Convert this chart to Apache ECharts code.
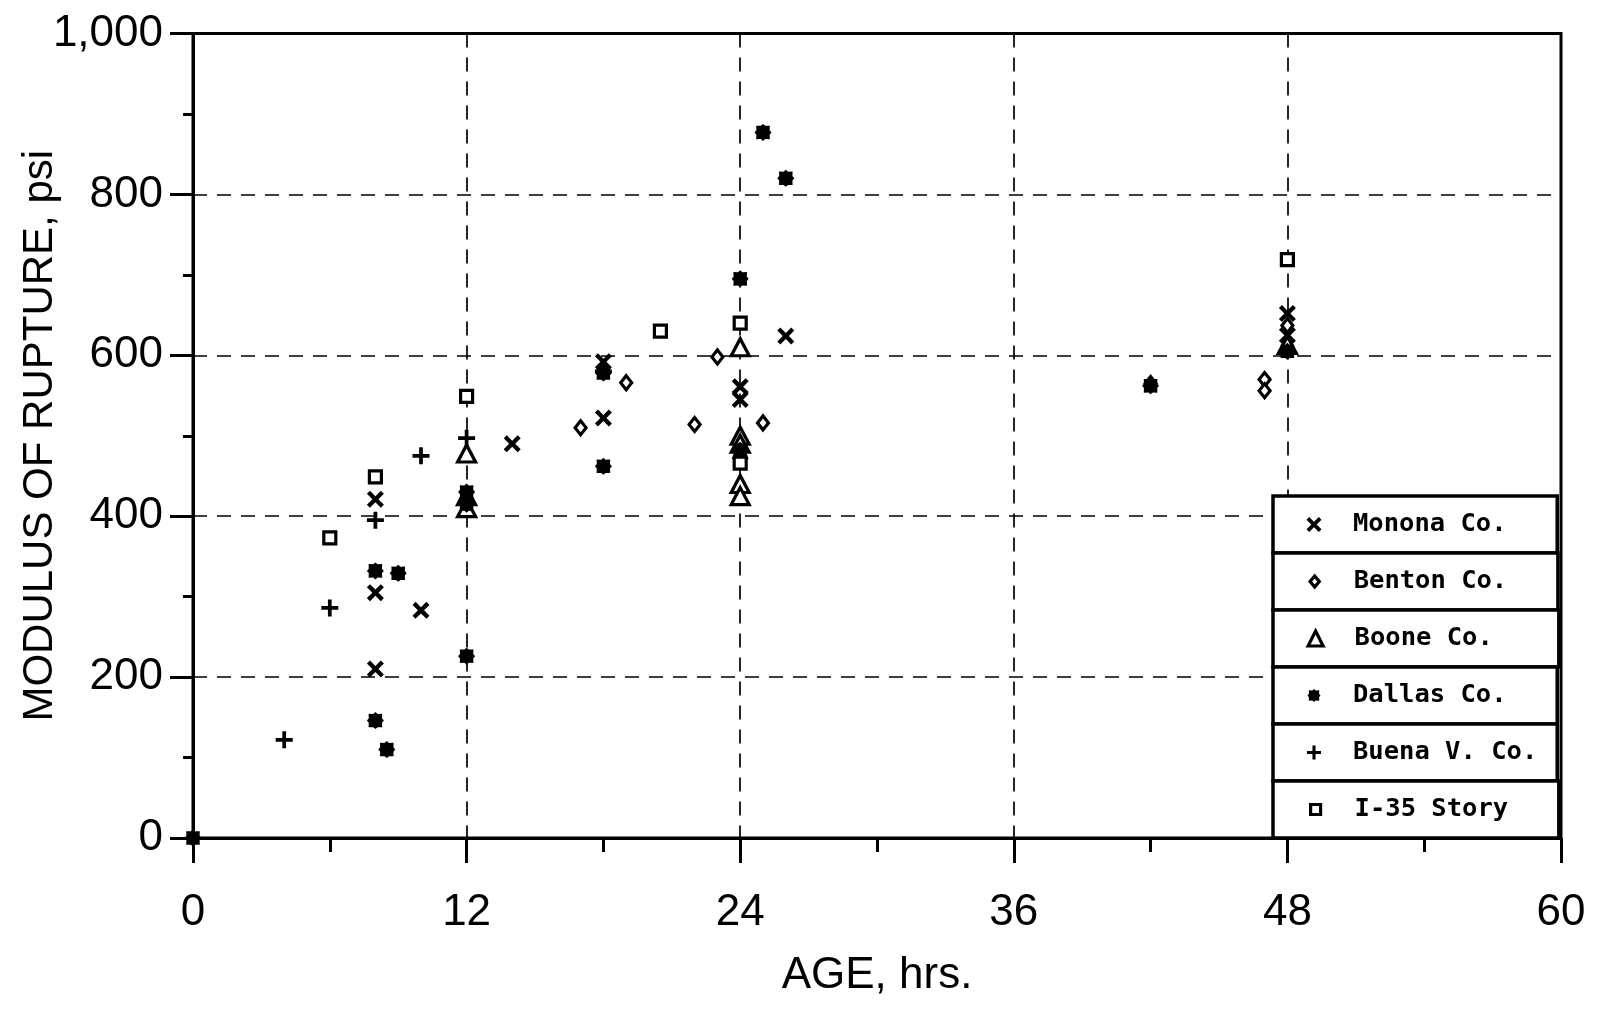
<!DOCTYPE html>
<html>
<head>
<meta charset="utf-8">
<script src="https://cdn.jsdelivr.net/npm/echarts@6/dist/echarts.min.js"></script>
<style>
html,body{margin:0;padding:0;background:#fff;}
#chart{width:1597px;height:1009px;}
</style>
</head>
<body>
<div id="chart"></div>
<script>
// ---- data (age in hrs, modulus of rupture in psi) ----
const seriesNames = ['Monona Co.', 'Benton Co.', 'Boone Co.', 'Dallas Co.', 'Buena V. Co.', 'I-35 Story'];
const monona = [[8,421],[8,305],[8,210],[10,283],[14,490],[18,522],[18,592],[24,561],[24,545],[26,624],[48,652],[48,625]];
const benton = [[17,510],[19,566],[22,514],[23,598],[25,516],[42,565],[47,570],[47,556],[48,637]];
const boone  = [[12,478],[12,425],[12,410],[24,610],[24,500],[24,490],[24,440],[24,425],[48,613]];
const dallas = [[0,0],[8,332],[9,329],[8,146],[8.5,110],[12,226],[12,430],[12,415],[18,462],[18,578],[24,695],[25,877],[26,820],[24,482],[24,472],[42,562],[48,605]];
const buena  = [[4,122],[6,286],[8,395],[10,475],[12,497],[18,580]];
const i35    = [[6,373],[8,449],[12,549],[20.5,630],[24,640],[24,466],[48,719]];
const xTicks = [0, 12, 24, 36, 48, 60];
const yTicks = [0, 200, 400, 600, 800, 1000];

// ---- symbols ----
const X_PATH = 'path://M0,1.8 L1.8,0 L5,3.2 L8.2,0 L10,1.8 L6.8,5 L10,8.2 L8.2,10 L5,6.8 L1.8,10 L0,8.2 L3.2,5 Z';
const PLUS_PATH = 'path://M3.9,0 H6.1 V3.9 H10 V6.1 H6.1 V10 H3.9 V6.1 H0 V3.9 H3.9 Z';
const STAR_PATH = 'path://M10,5 L8.9,6.3 L9,9 L6.3,8.9 L5,10 L3.7,8.9 L1,9 L1.1,6.3 L0,5 L1.1,3.7 L1,1 L3.7,1.1 L5,0 L6.3,1.1 L9,1 L8.9,3.7 Z';
const DIAMOND_PATH = 'path://M5,0 L10,6 L5,12 L0,6 Z';
const TRI_PATH = 'path://M5,0 L10,10 L0,10 Z';
const RECT_PATH = 'path://M0,0 H10 V10 H0 Z';

const filled = {color: '#000', borderWidth: 0, opacity: 1};
const hollow = {color: '#fff', borderColor: '#000', borderWidth: 3.2, opacity: 1};

const seriesData = [monona, benton, boone, dallas, buena, i35];
const symbols = [X_PATH, DIAMOND_PATH, TRI_PATH, STAR_PATH, PLUS_PATH, RECT_PATH];
const sizes = [17, [11, 14], [18, 17], 17, 17, 12];
const styles = [filled, hollow, hollow, filled, filled, hollow];
const legendSizes = [15, 11, 15, 13, 14, 10];

const labelFont = '"Liberation Sans Narrow", "Liberation Sans", Arial, sans-serif';
const monoFont = '"DejaVu Sans Mono", "Liberation Mono", monospace';

const series = seriesNames.map((n, i) => ({
  name: n,
  type: 'scatter',
  data: seriesData[i],
  symbol: symbols[i],
  symbolSize: sizes[i],
  itemStyle: styles[i],
  clip: false,
  emphasis: {disabled: true},
  z: 5
}));

const legendTop = 496, rowH = 57;
const legends = seriesNames.map((n, i) => {
  const s = legendSizes[i];
  return {
    show: true,
    orient: 'vertical',
    left: 1273,
    top: legendTop + i * rowH,
    padding: [13.5, 20, 13.5, 41 - s / 2],
    borderColor: '#000',
    borderWidth: 3.5,
    backgroundColor: '#fff',
    selectedMode: false,
    itemWidth: s,
    itemHeight: s,
    symbolKeepAspect: true,
    data: [{name: n, icon: symbols[i], itemStyle: styles[i]}],
    formatter: t => t.padEnd(12, '\u00a0'),
    textStyle: {fontFamily: monoFont, fontWeight: 'bold', fontSize: 25.5, lineHeight: 30, color: '#000',
      padding: [0, 0, 0, 34 - s / 2]}
  };
});

const dashed = {show: true, lineStyle: {color: '#000', width: 1.7, type: [14, 10]}};

const option = {
  animation: false,
  backgroundColor: '#fff',
  grid: {left: 193, right: 36, top: 33.5, bottom: 171, show: true, borderColor: '#000', borderWidth: 3, containLabel: false, outerBoundsMode: 'none'},
  legend: legends,
  xAxis: {
    type: 'value', min: xTicks[0], max: xTicks[xTicks.length - 1], interval: 12,
    name: 'AGE, hrs.', nameLocation: 'middle', nameGap: 116, nameMoveOverlap: false,
    nameTextStyle: {fontFamily: labelFont, fontSize: 44, color: '#000'},
    axisLine: {show: true, lineStyle: {color: '#000', width: 3}},
    axisTick: {show: true, inside: false, length: 25, lineStyle: {color: '#000', width: 3}},
    minorTick: {show: true, splitNumber: 2, length: 14, lineStyle: {color: '#000', width: 3}},
    axisLabel: {fontFamily: labelFont, fontSize: 44, color: '#000', margin: 53},
    splitLine: dashed
  },
  yAxis: {
    type: 'value', min: yTicks[0], max: yTicks[yTicks.length - 1], interval: 200,
    name: 'MODULUS OF RUPTURE, psi', nameLocation: 'middle', nameGap: 132, nameMoveOverlap: false,
    nameTextStyle: {fontFamily: labelFont, fontSize: 42, color: '#000'},
    axisLine: {show: true, lineStyle: {color: '#000', width: 3}},
    axisTick: {show: true, inside: false, length: 23, lineStyle: {color: '#000', width: 3}},
    minorTick: {show: true, splitNumber: 2, length: 10, lineStyle: {color: '#000', width: 3}},
    axisLabel: {fontFamily: labelFont, fontSize: 44, color: '#000', margin: 30,
      formatter: v => v.toLocaleString('en-US')},
    splitLine: dashed
  },
  series: series
};

const chart = echarts.init(document.getElementById('chart'), null, {renderer: 'canvas'});
chart.setOption(option);
</script>
</body>
</html>
